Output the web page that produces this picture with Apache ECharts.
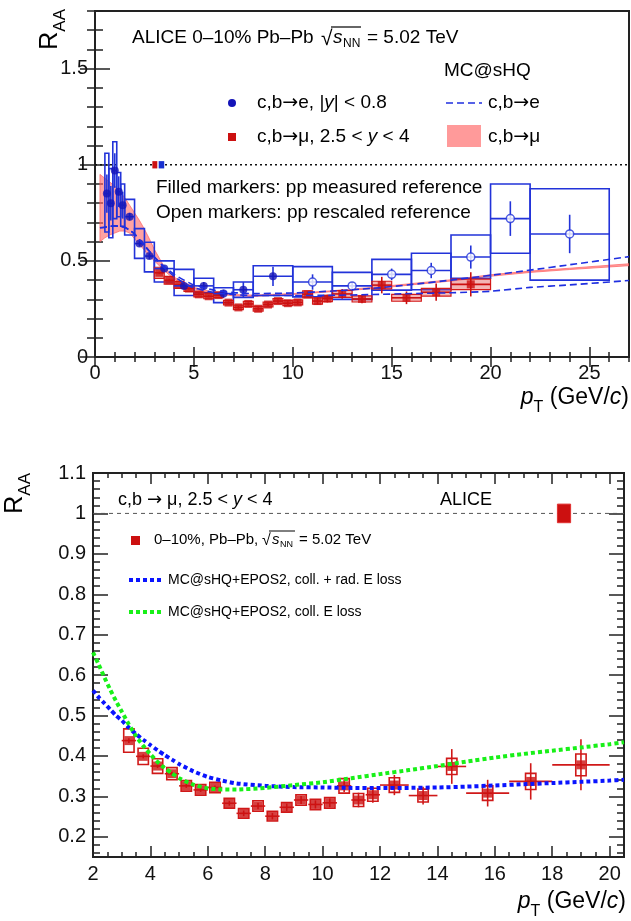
<!DOCTYPE html>
<html><head><meta charset="utf-8">
<script src="https://cdn.jsdelivr.net/npm/echarts@6/dist/echarts.min.js"></script>
<style>html,body{margin:0;padding:0;background:#fff}#c{width:631px;height:921px}</style>
</head><body><div id="c"></div>
<script>
// ================= DATA =================
// --- top panel axes ---
const topXTicks = [0, 5, 10, 15, 20, 25];
const topYTicks = [0, 0.5, 1, 1.5];
// --- bottom panel axes ---
const botXTicks = [2, 4, 6, 8, 10, 12, 14, 16, 18, 20];
const botYTicks = [0.2, 0.3, 0.4, 0.5, 0.6, 0.7, 0.8, 0.9, 1, 1.1];

// --- c,b -> e, |y|<0.8 (top panel, blue) ---
const ePt    = [0.6, 0.8, 1.0, 1.2, 1.4, 1.75, 2.25, 2.75, 3.5, 4.5, 5.5, 6.5, 7.5, 9, 11, 13, 15, 17, 19, 21, 24];
const eBinLo = [0.5, 0.7, 0.9, 1.1, 1.3, 1.5, 2.0, 2.5, 3, 4, 5, 6, 7, 8, 10, 12, 14, 16, 18, 20, 22];
const eBinHi = [0.7, 0.9, 1.1, 1.3, 1.5, 2.0, 2.5, 3.0, 4, 5, 6, 7, 8, 10, 12, 14, 16, 18, 20, 22, 26];
const eVal   = [0.85, 0.80, 0.97, 0.86, 0.79, 0.73, 0.59, 0.525, 0.46, 0.37, 0.37, 0.33, 0.35, 0.42, 0.39, 0.37, 0.43, 0.45, 0.52, 0.72, 0.64];
const eStat  = [0.10, 0.09, 0.09, 0.08, 0.07, 0.02, 0.015, 0.015, 0.015, 0.012, 0.02, 0.02, 0.04, 0.05, 0.04, 0.02, 0.03, 0.04, 0.06, 0.09, 0.10];
const eSysLo = [0.65, 0.62, 0.72, 0.73, 0.68, 0.635, 0.513, 0.443, 0.39, 0.32, 0.334, 0.283, 0.31, 0.32, 0.313, 0.30, 0.348, 0.35, 0.41, 0.54, 0.40];
const eSysHi = [1.06, 0.98, 1.12, 0.96, 0.90, 0.82, 0.668, 0.597, 0.50, 0.456, 0.41, 0.36, 0.39, 0.475, 0.47, 0.44, 0.508, 0.54, 0.635, 0.90, 0.875];
const eOpenFrom = 10; // points above this pT use the rescaled pp reference (open markers)

// --- c,b -> mu, 2.5<y<4 (both panels, red) ---
const muPt    = [3.25, 3.75, 4.25, 4.75, 5.25, 5.75, 6.25, 6.75, 7.25, 7.75, 8.25, 8.75, 9.25, 9.75, 10.25, 10.75, 11.25, 11.75, 12.5, 13.5, 14.5, 15.75, 17.25, 19];
const muBinLo = [3.0, 3.5, 4.0, 4.5, 5.0, 5.5, 6.0, 6.5, 7.0, 7.5, 8.0, 8.5, 9.0, 9.5, 10.0, 10.5, 11.0, 11.5, 12, 13, 14, 15, 16.5, 18];
const muBinHi = [3.5, 4.0, 4.5, 5.0, 5.5, 6.0, 6.5, 7.0, 7.5, 8.0, 8.5, 9.0, 9.5, 10.0, 10.5, 11.0, 11.5, 12.0, 13, 14, 15, 16.5, 18, 20];
const muVal   = [0.438, 0.399, 0.375, 0.356, 0.326, 0.316, 0.322, 0.283, 0.258, 0.276, 0.251, 0.273, 0.291, 0.280, 0.284, 0.326, 0.291, 0.304, 0.328, 0.302, 0.374, 0.308, 0.337, 0.378];
const muStat  = [0.006, 0.005, 0.005, 0.005, 0.005, 0.005, 0.005, 0.006, 0.007, 0.008, 0.008, 0.009, 0.010, 0.010, 0.011, 0.015, 0.018, 0.020, 0.025, 0.022, 0.043, 0.033, 0.045, 0.063];
const muSys   = [0.029, 0.020, 0.018, 0.015, 0.013, 0.013, 0.013, 0.012, 0.012, 0.013, 0.012, 0.012, 0.013, 0.013, 0.013, 0.018, 0.016, 0.016, 0.018, 0.016, 0.020, 0.018, 0.020, 0.027];

// --- MC@sHQ c,b -> e band (dashed, top) ---
const eModPt = [0.25, 0.5, 0.75, 1, 1.25, 1.5, 1.75, 2, 2.25, 2.5, 2.75, 3, 3.5, 4, 4.5, 5, 6, 7, 8, 10, 12, 14, 16, 18, 20, 22, 24, 27];
const eModHi = [0.672, 0.675, 0.68, 0.682, 0.68, 0.675, 0.66, 0.64, 0.61, 0.58, 0.55, 0.52, 0.47, 0.43, 0.40, 0.375, 0.348, 0.335, 0.33, 0.333, 0.343, 0.357, 0.377, 0.40, 0.425, 0.452, 0.48, 0.522];
const eModLo = [0.672, 0.675, 0.68, 0.682, 0.68, 0.675, 0.66, 0.64, 0.61, 0.58, 0.55, 0.52, 0.465, 0.42, 0.385, 0.36, 0.335, 0.325, 0.32, 0.32, 0.321, 0.325, 0.33, 0.334, 0.342, 0.362, 0.375, 0.398];

// --- MC@sHQ c,b -> mu band (pink, top) ---
const muModPt = [0.25, 0.5, 0.75, 1, 1.25, 1.5, 1.75, 2, 2.25, 2.5, 2.75, 3, 3.5, 4, 5, 6, 7, 8, 10, 12, 14, 16, 18, 20, 22, 24, 27];
const muModLo = [0.60, 0.62, 0.635, 0.645, 0.655, 0.655, 0.645, 0.615, 0.585, 0.555, 0.525, 0.50, 0.45, 0.405, 0.355, 0.33, 0.318, 0.315, 0.325, 0.34, 0.355, 0.375, 0.395, 0.42, 0.44, 0.455, 0.475];
const muModHi = [0.95, 0.93, 0.91, 0.89, 0.86, 0.83, 0.79, 0.75, 0.71, 0.665, 0.615, 0.56, 0.47, 0.415, 0.362, 0.337, 0.325, 0.322, 0.33, 0.345, 0.362, 0.382, 0.402, 0.428, 0.447, 0.462, 0.485];

// --- MC@sHQ+EPOS2 (bottom panel) ---
const botModPt = [2, 2.2, 2.4, 2.6, 2.8, 3, 3.25, 3.5, 3.75, 4, 4.25, 4.5, 4.75, 5, 5.5, 6, 6.5, 7, 8, 9, 10, 11, 12, 13, 14, 15, 16, 17, 18, 19, 20, 20.5];
const botModRad = [0.562, 0.545, 0.530, 0.515, 0.500, 0.488, 0.470, 0.454, 0.440, 0.427, 0.414, 0.402, 0.391, 0.380, 0.362, 0.348, 0.339, 0.332, 0.326, 0.323, 0.322, 0.321, 0.321, 0.321, 0.322, 0.324, 0.327, 0.330, 0.333, 0.336, 0.339, 0.341];
const botModColl = [0.656, 0.626, 0.594, 0.564, 0.536, 0.510, 0.478, 0.449, 0.425, 0.404, 0.385, 0.370, 0.357, 0.345, 0.329, 0.320, 0.317, 0.317, 0.321, 0.328, 0.335, 0.345, 0.355, 0.365, 0.375, 0.386, 0.396, 0.405, 0.413, 0.421, 0.429, 0.434];

// --- normalisation uncertainties at R_AA = 1 ---
const normTopLo = [2.9, 3.22];   const normTopHi = [3.15, 3.5];  const normTopErr = [0.019, 0.019];
const normBotLo = [18.18];       const normBotHi = [18.64];      const normBotErr = [0.023];

// ================= STYLE =================
const FONT = 'Liberation Sans, Arial, Helvetica, sans-serif';
const ARROWFONT = 'DejaVu Sans, Liberation Sans, sans-serif';
const BLUE_BOX = '#2233d9', BLUE_MK = '#1414b8', RED = '#cc1010';
const TICK = '#222';

function minorRange(a, b, s) { const r = []; for (let k = 0; a + k * s <= b + 1e-9; k++) r.push(+(a + k * s).toFixed(4)); return r; }
const fmt = v => String(+(+v).toFixed(2));

function axis(gi, pos, min, max, ticks, len, labelOpt) {
  const a = {
    type: 'value', gridIndex: gi, position: pos, min: min, max: max,
    axisLine: { show: false }, splitLine: { show: false },
    axisTick: { show: true, inside: true, length: len, customValues: ticks, lineStyle: { color: TICK, width: 1.5 } },
    axisLabel: { show: false }
  };
  if (labelOpt) a.axisLabel = Object.assign({ show: true, customValues: ticks, fontSize: 20, fontFamily: FONT, color: '#111', formatter: fmt }, labelOpt);
  return a;
}
const topXMinor = minorRange(0, 27, 1), topYMinor = minorRange(0, 1.8, 0.1);
const botXMinor = minorRange(2, 20.5, 0.5), botYMinor = minorRange(0.16, 1.1, 0.02);

const xAxes = [
  axis(0, 'bottom', 0, 27, topXTicks, 10, { margin: 6 }),
  axis(0, 'bottom', 0, 27, topXMinor, 5),
  axis(0, 'top', 0, 27, topXTicks, 10),
  axis(0, 'top', 0, 27, topXMinor, 5),
  axis(1, 'bottom', 2, 20.5, botXTicks, 11, { margin: 7 }),
  axis(1, 'bottom', 2, 20.5, botXMinor, 5),
  axis(1, 'top', 2, 20.5, botXTicks, 11),
  axis(1, 'top', 2, 20.5, botXMinor, 5)
];
const yAxes = [
  axis(0, 'left', 0, 1.8, topYTicks, 15, { margin: 7 }),
  axis(0, 'left', 0, 1.8, topYMinor, 8),
  axis(0, 'right', 0, 1.8, topYTicks, 15),
  axis(0, 'right', 0, 1.8, topYMinor, 8),
  axis(1, 'left', 0.15, 1.1, botYTicks, 15, { margin: 7 }),
  axis(1, 'left', 0.15, 1.1, botYMinor, 7),
  axis(1, 'right', 0.15, 1.1, botYTicks, 15),
  axis(1, 'right', 0.15, 1.1, botYMinor, 7)
];

// ---- series factories ----
function boxSeries(gi, xlo, xhi, ylo, yhi, style, z) {
  return {
    type: 'custom', xAxisIndex: gi * 4, yAxisIndex: gi * 4, z: z, clip: true, silent: true,
    data: xlo.map((v, i) => [v, ylo[i], xhi[i], yhi[i]]),
    encode: { x: [0, 2], y: [1, 3] },
    renderItem: function (params, api) {
      const p0 = api.coord([api.value(0), api.value(3)]);
      const p1 = api.coord([api.value(2), api.value(1)]);
      return { type: 'rect', shape: { x: p0[0], y: p0[1], width: p1[0] - p0[0], height: p1[1] - p0[1] }, style: style };
    }
  };
}
function barSeries(gi, x, xlo, xhi, y, ey, color, w, z) {
  return {
    type: 'custom', xAxisIndex: gi * 4, yAxisIndex: gi * 4, z: z, clip: true, silent: true,
    data: x.map((v, i) => [v, y[i], xlo[i], xhi[i], ey[i]]),
    encode: { x: 0, y: 1 },
    renderItem: function (params, api) {
      const xv = api.value(0), yv = api.value(1), l = api.value(2), h = api.value(3), e = api.value(4);
      const a = api.coord([xv, yv - e]), b = api.coord([xv, yv + e]);
      const c = api.coord([l, yv]), d = api.coord([h, yv]);
      return { type: 'group', children: [
        { type: 'line', shape: { x1: a[0], y1: a[1], x2: b[0], y2: b[1] }, style: { stroke: color, lineWidth: w } },
        { type: 'line', shape: { x1: c[0], y1: c[1], x2: d[0], y2: d[1] }, style: { stroke: color, lineWidth: w } }
      ] };
    }
  };
}
function bandSeries(pt, lo, hi, style, z) {
  return {
    type: 'custom', xAxisIndex: 0, yAxisIndex: 0, z: z, clip: true, silent: true,
    data: pt.map((p, i) => [p, lo[i], hi[i]]),
    encode: { x: 0, y: [1, 2] },
    renderItem: function (params, api) {
      if (params.dataIndex !== 0) return;
      const pts = [];
      for (let i = 0; i < pt.length; i++) pts.push(api.coord([pt[i], hi[i]]));
      for (let i = pt.length - 1; i >= 0; i--) pts.push(api.coord([pt[i], lo[i]]));
      return { type: 'polygon', shape: { points: pts }, style: style };
    }
  };
}
function lineSeries(gi, x, y, ls, z) {
  return { type: 'line', xAxisIndex: gi * 4, yAxisIndex: gi * 4, z: z, silent: true, showSymbol: false, symbol: 'none',
    smooth: 0.2, data: x.map((v, i) => [v, y[i]]), lineStyle: ls, clip: true };
}

const sub = (a, b) => a.map((v, i) => v - b[i]);
const add = (a, b) => a.map((v, i) => v + b[i]);
const pick = (arr, cond) => arr.filter((v, i) => cond(i));
const isOpen = i => ePt[i] > eOpenFrom, isFilled = i => ePt[i] <= eOpenFrom;

const series = [
  // R_AA = 1 lines
  { type: 'line', xAxisIndex: 0, yAxisIndex: 0, z: 1, silent: true, symbol: 'none', data: [[0, 1], [27, 1]], lineStyle: { color: '#111', width: 1.5, type: [2, 3] } },
  { type: 'line', xAxisIndex: 4, yAxisIndex: 4, z: 1, silent: true, symbol: 'none', data: [[2, 1], [20.5, 1]], lineStyle: { color: '#555', width: 1, type: [4, 4] } },
  // pink model band
  bandSeries(muModPt, muModLo, muModHi, { fill: 'rgba(255,100,100,0.6)', stroke: 'rgba(255,90,90,0.85)', lineWidth: 0.8 }, 2),
  // top blue boxes
  boxSeries(0, eBinLo, eBinHi, eSysLo, eSysHi, { fill: 'none', stroke: BLUE_BOX, lineWidth: 1.6 }, 3),
  // top red boxes
  boxSeries(0, muBinLo, muBinHi, sub(muVal, muSys), add(muVal, muSys), { fill: 'rgba(225,70,70,0.40)', stroke: '#d41a1a', lineWidth: 1.2 }, 4),
  barSeries(0, muPt, muBinLo, muBinHi, muVal, muStat, RED, 1.6, 5),
  { type: 'scatter', xAxisIndex: 0, yAxisIndex: 0, z: 6, silent: true, symbol: 'rect', symbolSize: 8,
    data: muPt.map((v, i) => [v, muVal[i]]), itemStyle: { color: RED } },
  // top blue bars & markers
  barSeries(0, ePt, eBinLo, eBinHi, eVal, eStat, BLUE_BOX, 1.6, 7),
  { type: 'scatter', xAxisIndex: 0, yAxisIndex: 0, z: 8, silent: true, symbol: 'circle', symbolSize: 8,
    data: pick(ePt, isFilled).map((v, k) => [v, pick(eVal, isFilled)[k]]), itemStyle: { color: BLUE_MK } },
  { type: 'scatter', xAxisIndex: 0, yAxisIndex: 0, z: 8, silent: true, symbol: 'circle', symbolSize: 8,
    data: pick(ePt, isOpen).map((v, k) => [v, pick(eVal, isOpen)[k]]), itemStyle: { color: '#fff', borderColor: BLUE_BOX, borderWidth: 1.5 } },
  // dashed model lines
  lineSeries(0, eModPt, eModHi, { color: '#1f2fe0', width: 1.6, type: [7, 4] }, 9),
  lineSeries(0, eModPt, eModLo, { color: '#1f2fe0', width: 1.6, type: [7, 4] }, 9),
  // norm boxes top
  boxSeries(0, [normTopLo[0]], [normTopHi[0]], [1 - normTopErr[0]], [1 + normTopErr[0]], { fill: RED }, 10),
  boxSeries(0, [normTopLo[1]], [normTopHi[1]], [1 - normTopErr[1]], [1 + normTopErr[1]], { fill: '#1830d0' }, 10),

  // ---------- bottom panel ----------
  boxSeries(1, muPt.map(v => v - 0.18), muPt.map(v => v + 0.18), sub(muVal, muSys), add(muVal, muSys), { fill: 'none', stroke: '#d01818', lineWidth: 1.6 }, 3),
  barSeries(1, muPt, muBinLo, muBinHi, muVal, muStat, '#d01818', 1.6, 4),
  { type: 'scatter', xAxisIndex: 4, yAxisIndex: 4, z: 5, silent: true, symbol: 'rect', symbolSize: 9,
    data: muPt.map((v, i) => [v, muVal[i]]), itemStyle: { color: RED } },
  lineSeries(1, botModPt, botModRad, { color: '#0a14ff', width: 4, type: [4, 3], cap: 'butt' }, 6),
  lineSeries(1, botModPt, botModColl, { color: '#18f018', width: 4, type: [4, 3], cap: 'butt' }, 7),
  boxSeries(1, normBotLo, normBotHi, normBotErr.map(e => 1 - e), normBotErr.map(e => 1 + e), { fill: RED, stroke: '#e03030', lineWidth: 1 }, 8)
];

// ================= TEXT / LEGENDS =================
function T(text, x, y, size, opts) {
  return Object.assign({ type: 'text', x: x, y: y, silent: true, z: 100,
    style: Object.assign({ text: text, fill: '#000', font: size + 'px ' + FONT, fontSize: size, fontFamily: FONT,
      textAlign: 'left', textVerticalAlign: 'middle', verticalAlign: 'middle' }, (opts && opts.style) || {}) },
    (opts && opts.el) || {});
}
function rich(size) {
  return {
    n: { fontSize: size, fontFamily: FONT, fill: '#000', color: '#000' },
    i: { fontSize: size, fontFamily: FONT, fontStyle: 'italic', fill: '#000', color: '#000' },
    a: { fontSize: size, fontFamily: ARROWFONT, fill: '#000', color: '#000' }
  };
}
const R = (text, x, y, size) => T(text, x, y, size, { style: { rich: rich(size) } });
function L(x1, y1, x2, y2, stroke, w, dash) {
  return { type: 'line', silent: true, z: 100, shape: { x1: x1, y1: y1, x2: x2, y2: y2 }, style: { stroke: stroke, lineWidth: w, lineDash: dash || null } };
}
function raa(x, y) {
  return { type: 'text', x: x, y: y, rotation: Math.PI / 2, silent: true, z: 100,
    style: { text: '{r|R}{s|AA}', textAlign: 'right', align: 'right', textVerticalAlign: 'middle', verticalAlign: 'middle',
      rich: {
        r: { fontSize: 25, fontFamily: FONT, fill: '#000', color: '#000', lineHeight: 28, verticalAlign: 'top' },
        s: { fontSize: 17, fontFamily: FONT, fill: '#000', color: '#000', lineHeight: 20, verticalAlign: 'top', padding: [14, 0, 0, 0] }
      } } };
}
function ptTitle(xRight, y) {
  return { type: 'text', x: xRight, y: y, silent: true, z: 100,
    style: { text: '{i|p}{s|T}{n| (GeV/}{i|c}{n|)}', textAlign: 'right', align: 'right', textVerticalAlign: 'middle', verticalAlign: 'middle',
      rich: {
        i: { fontSize: 23, fontFamily: FONT, fontStyle: 'italic', fill: '#000', color: '#000', lineHeight: 26, verticalAlign: 'top' },
        n: { fontSize: 23, fontFamily: FONT, fill: '#000', color: '#000', lineHeight: 26, verticalAlign: 'top' },
        s: { fontSize: 16, fontFamily: FONT, fill: '#000', color: '#000', lineHeight: 18, verticalAlign: 'top', padding: [14, 0, 0, 0] }
      } } };
}
const graphics = [
  // top header
  T('ALICE 0\u201310% Pb\u2013Pb', 132, 38, 19),
  T('\u221A', 321, 39, 21),
  T('s', 333, 38, 19, { style: { fontStyle: 'italic', font: 'italic 19px ' + FONT } }),
  T('NN', 343, 44, 12),
  L(331, 27, 361, 27, '#000', 1.2),
  T('= 5.02 TeV', 367, 38, 19),
  T('MC@sHQ', 444, 71, 19),
  { type: 'circle', silent: true, z: 100, shape: { cx: 232, cy: 103, r: 4 }, style: { fill: BLUE_MK } },
  R('c,b{a|\u2192}e, |{i|y}| < 0.8', 257, 103, 19),
  { type: 'rect', silent: true, z: 100, shape: { x: 228, y: 133, width: 8, height: 8 }, style: { fill: RED } },
  R('c,b{a|\u2192}\u03BC, 2.5 < {i|y} < 4', 257, 137, 19),
  L(446, 103, 482, 103, '#1f2fe0', 1.6, [7, 4]),
  { type: 'rect', silent: true, z: 100, shape: { x: 447, y: 125, width: 34, height: 22 }, style: { fill: 'rgba(255,100,100,0.65)' } },
  R('c,b{a|\u2192}e', 488, 103, 19),
  R('c,b{a|\u2192}\u03BC', 488, 137, 19),
  T('Filled markers: pp measured reference', 156, 188, 19),
  T('Open markers: pp rescaled reference', 156, 213, 19),
  raa(52, 9),
  ptTitle(629, 399),

  // bottom header
  R('c,b {a|\u2192} \u03BC, 2.5 < {i|y} < 4', 118, 500, 18),
  T('ALICE', 440, 500, 18),
  { type: 'rect', silent: true, z: 100, shape: { x: 131, y: 536, width: 9, height: 9 }, style: { fill: RED } },
  T('0\u201310%, Pb\u2013Pb,', 154, 540, 15),
  T('\u221A', 262, 541, 16),
  T('s', 272, 540, 15, { style: { fontStyle: 'italic', font: 'italic 15px ' + FONT } }),
  T('NN', 280, 545, 9),
  L(269, 531, 295, 531, '#000', 1),
  T('= 5.02 TeV', 299, 540, 15),
  L(129, 580, 161, 580, '#0a14ff', 4, [4, 3]),
  T('MC@sHQ+EPOS2, coll. + rad. E loss', 168, 580, 14),
  L(129, 612, 161, 612, '#18f018', 4, [4, 3]),
  T('MC@sHQ+EPOS2, coll. E loss', 168, 612, 14),
  raa(17, 473),
  ptTitle(626, 903)
];

const chart = echarts.init(document.getElementById('c'), null, { renderer: 'canvas' });
chart.setOption({
  animation: false,
  backgroundColor: '#fff',
  grid: [
    { left: 95, top: 11, width: 534, height: 346, show: true, borderColor: '#222', borderWidth: 2, backgroundColor: 'transparent' },
    { left: 93, top: 473, width: 531, height: 384, show: true, borderColor: '#222', borderWidth: 2, backgroundColor: 'transparent' }
  ],
  xAxis: xAxes,
  yAxis: yAxes,
  series: series,
  graphic: graphics
});
</script>
</body></html>
